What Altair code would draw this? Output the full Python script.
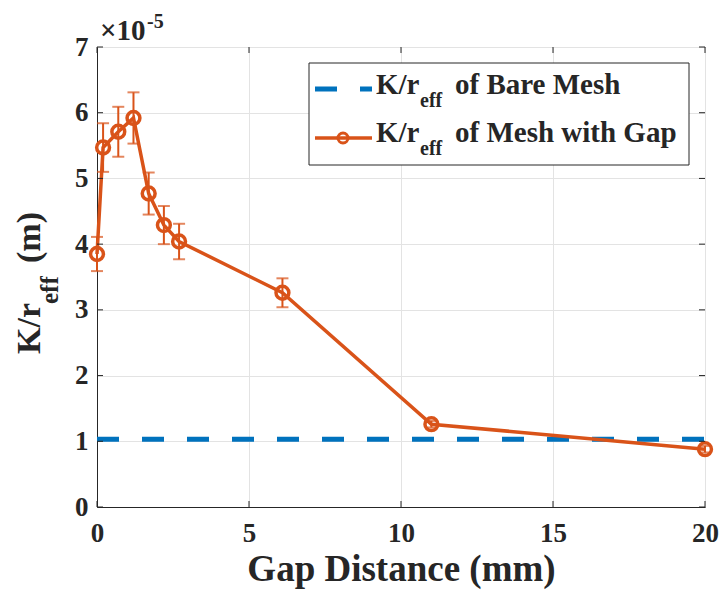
import altair as alt
import pandas as pd

# ---- data (values in units of 1e-5 m) ----
gap_mm = [0.0, 0.2, 0.7, 1.2, 1.7, 2.2, 2.7, 6.1, 11.0, 20.0]
k_reff = [3.85, 5.47, 5.71, 5.92, 4.77, 4.29, 4.04, 3.26, 1.26, 0.88]
k_err = [0.26, 0.37, 0.38, 0.39, 0.32, 0.29, 0.27, 0.22, 0.05, 0.05]
bare_mesh = 1.03
x_ticks = [0, 5, 10, 15, 20]
y_ticks = [0, 1, 2, 3, 4, 5, 6, 7]

ORANGE = "#D95319"
BLUE = "#0072BD"
DARK = "#262626"
GRID = "#e3e3e3"
FONT = "'Times New Roman', 'Liberation Serif', 'DejaVu Serif', serif"

W, H = 608, 460

df = pd.DataFrame({"x": gap_mm, "y": k_reff,
                   "lo": [a - b for a, b in zip(k_reff, k_err)],
                   "hi": [a + b for a, b in zip(k_reff, k_err)]})
bare_df = pd.DataFrame({"x": [x_ticks[0]], "x2": [x_ticks[-1]], "y": [bare_mesh]})
xt_df = pd.DataFrame({"v": x_ticks})
yt_df = pd.DataFrame({"v": y_ticks})

xscale = alt.Scale(domain=[0, 20], nice=False, zero=False)
yscale = alt.Scale(domain=[0, 7], nice=False, zero=False)

xaxis = alt.Axis(values=x_ticks, grid=True, gridColor=GRID, ticks=False,
                 domainColor=DARK, labelColor=DARK, labelFont=FONT, format="d",
                 labelFontSize=27, labelFontWeight="bold", labelPadding=13,
                 labelFlush=False,
                 title="Gap Distance (mm)", titleFont=FONT, titleFontSize=37,
                 titleFontWeight="bold", titleColor=DARK, titlePadding=5)
yaxis = alt.Axis(values=y_ticks, grid=True, gridColor=GRID, ticks=False,
                 domainColor=DARK, labelColor=DARK, labelFont=FONT, format="d",
                 labelFontSize=27, labelFontWeight="bold", labelPadding=9,
                 labelFlush=False, title=None)

base = alt.Chart(df)

bare = alt.Chart(bare_df).mark_rule(color=BLUE, strokeWidth=5, strokeDash=[22, 23]).encode(
    x=alt.X("x:Q", scale=xscale, axis=xaxis),
    x2="x2:Q",
    y=alt.Y("y:Q", scale=yscale, axis=yaxis),
)

line = base.mark_line(color=ORANGE, strokeWidth=3.5).encode(
    x=alt.X("x:Q", scale=xscale), y=alt.Y("y:Q", scale=yscale))

err_rule = base.mark_rule(color=ORANGE, strokeWidth=2).encode(
    x="x:Q", y="lo:Q", y2="hi:Q")
cap_lo = base.mark_tick(color=ORANGE, orient="horizontal", size=12, thickness=2).encode(
    x="x:Q", y="lo:Q")
cap_hi = base.mark_tick(color=ORANGE, orient="horizontal", size=12, thickness=2).encode(
    x="x:Q", y="hi:Q")

pts = base.mark_point(shape="circle", filled=False, color=ORANGE, size=165,
                      strokeWidth=3.5, opacity=1).encode(x="x:Q", y="y:Q")

# inside tick marks (MATLAB style)
tk = 6
xt_bottom = alt.Chart(xt_df).mark_rule(color=DARK, strokeWidth=1).encode(
    x="v:Q", y=alt.value(H), y2=alt.value(H - tk))
xt_top = alt.Chart(xt_df).mark_rule(color=DARK, strokeWidth=1).encode(
    x="v:Q", y=alt.value(0), y2=alt.value(tk))
yt_left = alt.Chart(yt_df).mark_rule(color=DARK, strokeWidth=1).encode(
    y="v:Q", x=alt.value(0), x2=alt.value(tk))
yt_right = alt.Chart(yt_df).mark_rule(color=DARK, strokeWidth=1).encode(
    y="v:Q", x=alt.value(W), x2=alt.value(W - tk))

def txt(s, x, y, size, angle=0):
    return alt.Chart(pd.DataFrame({"t": [s]})).mark_text(
        font=FONT, fontWeight="bold", fontSize=size, color=DARK, align="left",
        baseline="alphabetic", angle=angle).encode(
        text="t:N", x=alt.value(x), y=alt.value(y))

# y-axis title with subscript
ytitle = [
    txt("K/r", -57, 307, 34, 270),
    txt("eff", -39, 257, 25, 270),
    txt("(m)", -57, 216, 34, 270),
]
# exponent label
expo = [txt("×10", 3, -7, 29), txt("-5", 50, -19, 20)]

# legend
leg_box = alt.Chart(pd.DataFrame({"a": [0]})).mark_rect(
    fill="white", stroke=DARK, strokeWidth=1).encode(
    x=alt.value(212), x2=alt.value(592), y=alt.value(16), y2=alt.value(118))
leg_blue = alt.Chart(pd.DataFrame({"a": [0]})).mark_rule(
    color=BLUE, strokeWidth=5, strokeDash=[22, 23]).encode(
    x=alt.value(218), x2=alt.value(275), y=alt.value(42))
leg_orange = alt.Chart(pd.DataFrame({"a": [0]})).mark_rule(
    color=ORANGE, strokeWidth=3.5).encode(
    x=alt.value(218), x2=alt.value(275), y=alt.value(91))
leg_pt = alt.Chart(pd.DataFrame({"a": [0]})).mark_point(
    shape="circle", filled=False, color=ORANGE, size=100, strokeWidth=3, opacity=1).encode(
    x=alt.value(246), y=alt.value(91))
leg_txt = [
    txt("K/r", 279, 47, 29), txt("eff", 323, 60, 20), txt("of Bare Mesh", 358, 47, 29),
    txt("K/r", 279, 95, 29), txt("eff", 323, 108, 20), txt("of Mesh with Gap", 358, 95, 29),
]

chart = alt.layer(
    bare, line, err_rule, cap_lo, cap_hi, pts,
    xt_bottom, xt_top, yt_left, yt_right,
    *ytitle, *expo,
    leg_box, leg_blue, leg_orange, leg_pt, *leg_txt,
).properties(
    width=W, height=H,
    padding={"left": 97, "top": 47, "right": 15, "bottom": 89},
    autosize=alt.AutoSizeParams(type="none"),
    background="white",
).configure_view(stroke=DARK, strokeWidth=1)

chart.save("out.html", embed_options={"renderer": "svg", "actions": False})
